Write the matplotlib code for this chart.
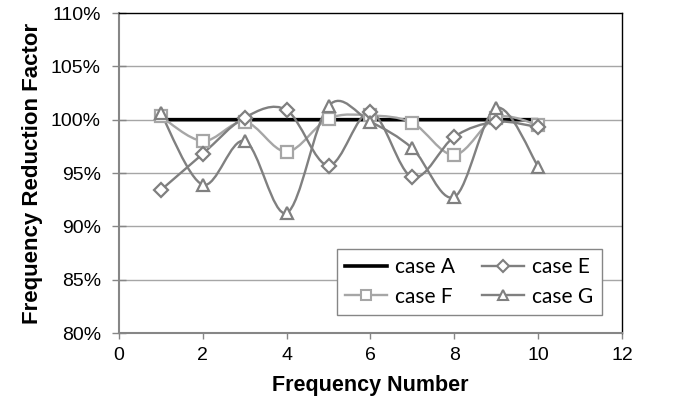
import matplotlib
matplotlib.use("Agg")
import matplotlib.pyplot as plt
from matplotlib.path import Path
from matplotlib.patches import PathPatch
from matplotlib.lines import Line2D
import numpy as np

freq = [1, 2, 3, 4, 5, 6, 7, 8, 9, 10]
case_a = [100, 100, 100, 100, 100, 100, 100, 100, 100, 100]
case_e = [93.4, 96.8, 100.2, 100.9, 95.7, 100.7, 94.6, 98.4, 99.8, 99.3]
case_f = [100.3, 98.0, 99.8, 97.0, 100.1, 100.4, 99.7, 96.7, 100.2, 99.5]
case_g = [100.6, 93.9, 98.0, 91.25, 101.3, 99.8, 97.3, 92.75, 101.1, 95.6]

yticks = [80, 85, 90, 95, 100, 105, 110]
xticks = [0, 2, 4, 6, 8, 10, 12]

plt.rcParams['font.family'] = ['Liberation Sans', 'DejaVu Sans']

fig = plt.figure(figsize=(6.87, 4.09), dpi=100)
ax = fig.add_axes([0.1732, 0.1858, 0.7322, 0.7824])
ax.set_xlim(0, 12)
ax.set_ylim(80, 110)


def smooth_path(xs, ys):
    pts = np.column_stack([xs, ys]).astype(float)
    n = len(pts)
    verts = [pts[0]]
    codes = [Path.MOVETO]
    for i in range(n - 1):
        p0 = pts[i - 1] if i > 0 else pts[i]
        p1 = pts[i]
        p2 = pts[i + 1]
        p3 = pts[i + 2] if i + 2 < n else pts[i + 1]
        c1 = p1 + (p2 - p0) / 6.0
        c2 = p2 - (p3 - p1) / 6.0
        verts += [c1, c2, p2]
        codes += [Path.CURVE4] * 3
    return Path(verts, codes)


grid_c = '#a6a6a6'
for y in yticks[1:-1]:
    ax.axhline(y, color=grid_c, lw=1.0, zorder=1)

series = [
    (case_a, '#000000', 2.6, None, 'case A'),
    (case_f, '#a6a6a6', 1.7, 's', 'case F'),
    (case_e, '#7f7f7f', 1.7, 'D', 'case E'),
    (case_g, '#808080', 1.7, '^', 'case G'),
]
msizes = {'s': 8, 'D': 7, '^': 8}
handles = []
for vals, col, lw, mk, lab in series:
    p = PathPatch(smooth_path(freq, vals), facecolor='none', edgecolor=col,
                  lw=lw, zorder=3, capstyle='butt')
    ax.add_patch(p)
    if mk:
        ax.plot(freq, vals, linestyle='none', marker=mk, ms=msizes[mk],
                mfc='white', mec=col, mew=1.6, zorder=4)
    h = Line2D([], [], color=col, lw=lw, marker=mk,
               ms=(msizes[mk] - 1) if mk else 0,
               mfc='white', mec=col, mew=1.5)
    handles.append((h, lab))

ax.set_xticks(xticks)
ax.set_yticks(yticks)
ax.set_yticklabels([f"{v}%" for v in yticks])
ax.tick_params(axis='x', labelsize=14, color='#868686', length=4,
               width=1.0, direction='out', pad=6)
ax.tick_params(axis='y', labelsize=14, color='#868686', length=10,
               width=1.0, direction='inout', pad=8)
for s in ['left', 'bottom']:
    ax.spines[s].set_color('#868686')
    ax.spines[s].set_linewidth(1.5)
for s in ['top', 'right']:
    ax.spines[s].set_color('#000000')
    ax.spines[s].set_linewidth(1.0)

ax.set_xlabel('Frequency Number', fontsize=15.5, fontweight='bold',
              labelpad=8)
ax.set_ylabel('Frequency Reduction Factor', fontsize=16, fontweight='bold',
              labelpad=6)

leg = ax.legend([h for h, _ in handles], [l for _, l in handles], ncol=2,
                loc='lower right', bbox_to_anchor=(0.960, 0.056),
                prop={'family': 'Lato', 'size': 15}, frameon=True,
                fancybox=False, edgecolor='#868686', framealpha=1,
                handlelength=2.0, columnspacing=1.3, borderpad=0.4,
                labelspacing=0.45, handletextpad=0.4, borderaxespad=0)
leg.get_frame().set_linewidth(1.0)
leg.set_zorder(5)

fig.savefig('out.png', dpi=100)
